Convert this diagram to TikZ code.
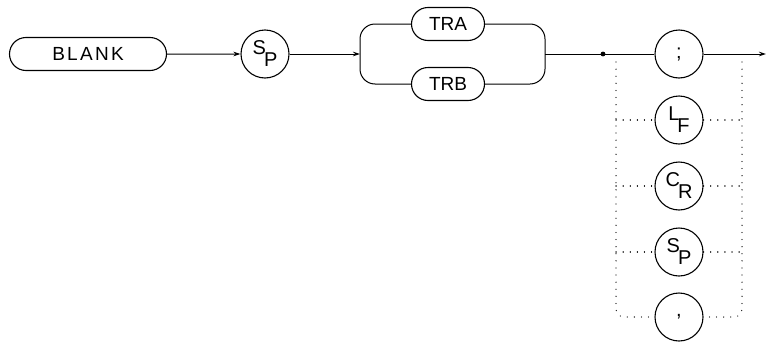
\documentclass[tikz,border=0pt]{standalone}
\usepackage{fontspec}
\setmainfont{Liberation Sans}
\usetikzlibrary{shapes.misc,arrows.meta}

% two letters set as one plotter glyph (big one up-left, second down-right)
\newcommand{\dualchar}[2]{\raisebox{6pt}{#1}\kern-2pt\raisebox{-6pt}{#2}}

\begin{document}
\begin{tikzpicture}[
    x=1pt, y=-1pt,
    word/.style={draw, line width=1.1pt, rounded rectangle, minimum height=33pt,
                 inner sep=0pt, font=\fontsize{19}{19}\selectfont},
    term/.style={draw, line width=1.1pt, circle, minimum size=48pt,
                 inner sep=0pt, font=\fontsize{20}{20}\selectfont},
    wire/.style={line width=1pt},
    flow/.style={wire, -{Stealth[length=7pt, width=4.5pt]}},
    altwire/.style={line width=1.2pt, dash pattern=on 0.1pt off 7pt, line cap=round},
]

\useasboundingbox (0,0) rectangle (767,343);

% ── Keyword and separator ───────────────────────────────────
\node[word, minimum width=157pt] (blank) at (88,54)
    {\addfontfeature{LetterSpace=12}BLANK};
\node[term] (sp) at (265,54) {\dualchar{S}{P}};

% ── Trace choice ────────────────────────────────────────────
\coordinate (lsplit) at (360,54);
\coordinate (rsplit) at (545,54);
\node[word, minimum width=73pt] (tra) at (448,24) {TRA};
\node[word, minimum width=73pt] (trb) at (448,84) {TRB};

% ── Terminators ─────────────────────────────────────────────
\coordinate (jdot) at (603,54);
\node[term] (semi)  at (679,54)  {;};
\node[term] (lf)    at (679,120) {\dualchar{L}{F}};
\node[term] (cr)    at (679,186) {\dualchar{C}{R}};
\node[term] (sp2)   at (679,252) {\dualchar{S}{P}};
\node[term] (comma) at (679,317) {,};
\coordinate (out)  at (766,54);
\coordinate (ldot) at (616,62);
\coordinate (rdot) at (742,62);

% ── Main path ───────────────────────────────────────────────
\draw[flow] (blank) -- (sp);
\draw[flow] (sp) -- (lsplit);
\draw[wire, rounded corners=15pt] (tra.west) -| (lsplit) |- (trb.west);
\draw[wire, rounded corners=15pt] (tra.east) -| (rsplit) |- (trb.east);
\draw[wire] (rsplit) -- (semi);
\fill (jdot) circle (2.4pt);
\draw[flow] (semi) -- (out);

% ── Optional terminators (dotted) ───────────────────────────
\draw[altwire, rounded corners=8pt] (ldot) |- (comma.west);
\draw[altwire, rounded corners=8pt] (rdot) |- (comma.east);
\foreach \t in {lf, cr, sp2} {
    \draw[altwire] (\t.west -| ldot) -- (\t.west);
    \draw[altwire] (\t.east) -- (\t.east -| rdot);
}

\end{tikzpicture}
\end{document}
